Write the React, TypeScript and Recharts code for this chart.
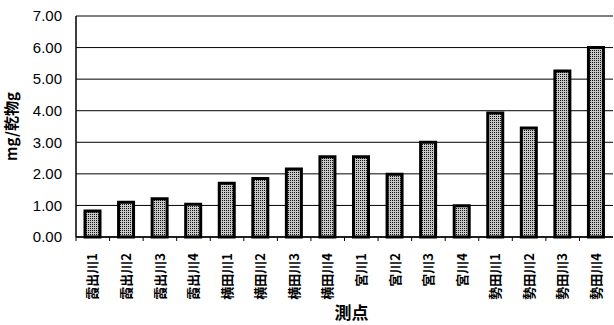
import { BarChart, Bar, XAxis, YAxis, CartesianGrid } from "recharts"

// 測点ごとの濃度 (mg/乾物g)
const stations = [
  "霞出川1", "霞出川2", "霞出川3", "霞出川4",
  "横田川1", "横田川2", "横田川3", "横田川4",
  "宮川1", "宮川2", "宮川3", "宮川4",
  "勢田川1", "勢田川2", "勢田川3", "勢田川4",
]
const values = [
  0.82, 1.1, 1.21, 1.04,
  1.7, 1.85, 2.15, 2.54,
  2.54, 1.99, 3.0, 0.99,
  3.93, 3.45, 5.26, 6.0,
]
const yTicks = [0, 1, 2, 3, 4, 5, 6, 7]

const chartData = stations.map((name, i) => ({ name, value: values[i] }))

const W = 614
const H = 325
const MARGIN = { top: 16, right: 1, bottom: 0, left: 26 }
const Y_AXIS_W = 50
const jp = "'Noto Sans CJK JP', sans-serif"

const StationTick = ({ x, y, payload }: any) => {
  const band = (W - MARGIN.left - Y_AXIS_W - MARGIN.right) / stations.length
  const axisY = y - 4
  return (
    <g>
      {/* 区切りの目盛り (内向き) */}
      <line x1={x - band / 2} x2={x - band / 2} y1={axisY} y2={axisY - 4} stroke="#000" strokeWidth={1} />
      <text
        transform={`translate(${x},${axisY + 12}) rotate(-90)`}
        textAnchor="end"
        dy="0.36em"
        fontFamily={jp}
        fontWeight="bold"
        fontSize={13}
        fill="#000"
      >
        {payload.value}
      </text>
    </g>
  )
}

export default function App() {
  return (
    <div style={{ position: "absolute", left: 0, top: 0, background: "#fff" }}>
      <BarChart width={W} height={H} data={chartData} margin={MARGIN}>
        <defs>
          <pattern id="stipple" width="2" height="2" patternUnits="userSpaceOnUse">
            <rect width="2" height="2" fill="#c8c8c8" />
            <rect width="1" height="1" fill="#111" />
          </pattern>
        </defs>
        <CartesianGrid vertical={false} stroke="#000" strokeWidth={1} />
        <XAxis
          dataKey="name"
          interval={0}
          height={88}
          tickLine={false}
          axisLine={{ stroke: "#000", strokeWidth: 1.5 }}
          tick={<StationTick />}
          label={{
            value: "測点",
            position: "insideBottom",
            offset: 6,
            dx: 7,
            fontFamily: jp,
            fontWeight: "bold",
            fontSize: 17,
            fill: "#000",
          }}
        />
        <YAxis
          width={Y_AXIS_W}
          domain={[0, 7]}
          ticks={yTicks}
          interval={0}
          tickLine={false}
          axisLine={{ stroke: "#000", strokeWidth: 1.5 }}
          tickFormatter={(v) => v.toFixed(2)}
          tick={{ fontFamily: "'Liberation Sans', Arial, sans-serif", fontSize: 15, fill: "#000" }}
          tickMargin={8}
          label={{
            value: "mg/乾物g",
            angle: -90,
            position: "insideLeft",
            offset: -14,
            style: { textAnchor: "middle" },
            fontFamily: jp,
            fontWeight: "bold",
            fontSize: 15,
            fill: "#000",
          }}
        />
        <Bar
          dataKey="value"
          fill="url(#stipple)"
          stroke="#000"
          strokeWidth={3}
          barSize={15}
          isAnimationActive={false}
        />
      </BarChart>
    </div>
  )
}
